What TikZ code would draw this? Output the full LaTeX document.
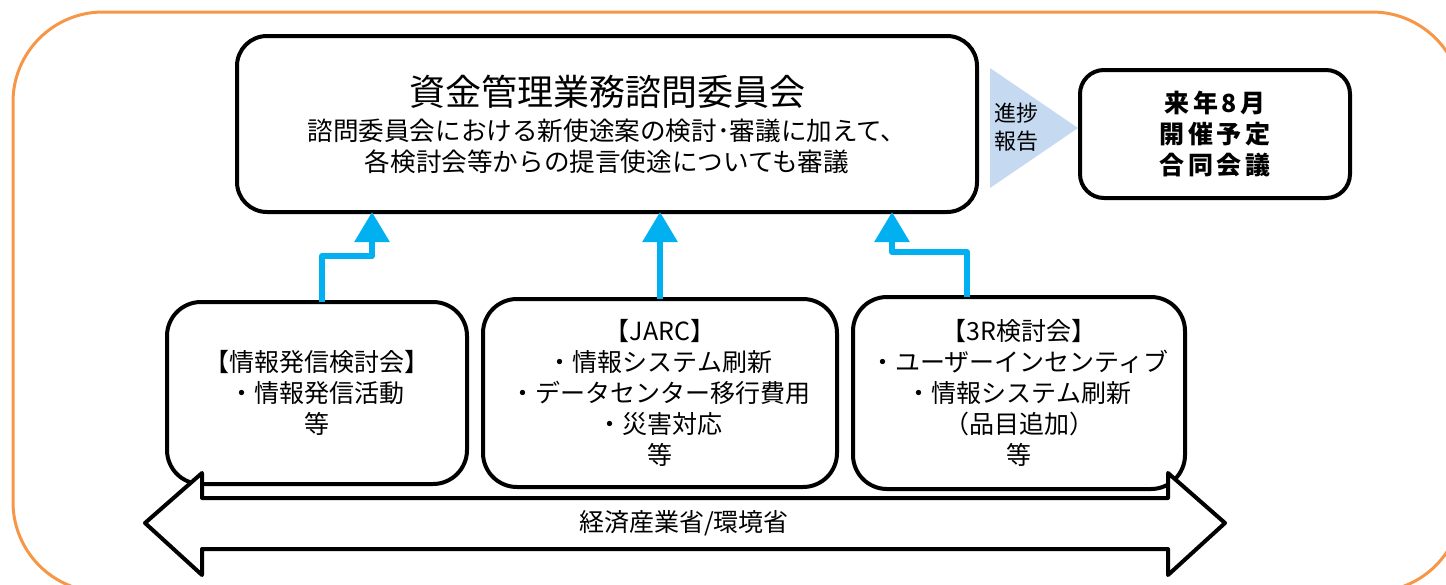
\documentclass[tikz,border=0pt]{standalone}
\usepackage{fontspec}
\setmainfont{Noto Sans CJK JP}
\usetikzlibrary{arrows.meta,positioning}
\definecolor{frameorange}{RGB}{247,150,70}
\definecolor{linkblue}{RGB}{0,176,240}
\definecolor{paleblue}{RGB}{197,217,241}

\begin{document}
\begin{tikzpicture}[
  x=0.5pt, y=-0.5pt,
  node distance=8pt,
  box/.style={draw, line width=2pt, rounded corners=15pt, align=center, inner sep=2pt, outer sep=0pt},
  topic/.style={box, rounded corners=17pt, minimum height=91pt, font=\fontsize{12.5}{15.5}\selectfont},
  link/.style={-{Triangle[length=15pt,width=17pt]}, line width=3pt, linkblue, line join=round},
  bigarrow/.style={draw, fill=white, line width=2pt, line join=round}
]
\useasboundingbox (0,0) rectangle (1446,584);
\draw[frameorange, line width=1.5pt, rounded corners=45pt] (13,12) rectangle (1462,592);

% upper row
\node[box, minimum width=370pt, minimum height=88pt, font=\fontsize{12.8}{15.5}\selectfont] (council) at (607,124)
  {{\fontsize{18}{21}\selectfont 資金管理業務諮問委員会}\\[2pt]
   諮問委員会における新使途案の検討･審議に加えて、\\
   各検討会等からの提言使途についても審議};
\node[box, rounded corners=12pt, minimum width=135pt, minimum height=64pt,
  font=\bfseries\fontsize{12.5}{15.5}\selectfont\addfontfeatures{LetterSpace=15}] (meeting) at (1215,134)
  {来年8月\\開催予定\\合同会議};
\fill[paleblue] (990,68) -- (1078,128) -- (990,188) -- cycle;
\node[font=\fontsize{11}{14}\selectfont, align=center] (report) at (1016,127) {進捗\\報告};

% study groups
\node[topic, minimum width=150pt] (info) at (317,393)
  {【情報発信検討会】\\・情報発信活動\\等};
\node[topic, minimum width=177pt, minimum height=94pt, right=8pt of info] (jarc)
  {【JARC】\\・情報システム刷新\\・データセンター移行費用\\・災害対応\\等};
\node[topic, minimum width=166pt, minimum height=96pt, right=8pt of jarc] (threer)
  {【3R検討会】\\・ユーザーインセンティブ\\・情報システム刷新\\（品目追加）\\等};

\draw[link] ([xshift=2.5pt]info.north) -- ++(0,23pt) -| ([xshift=-117.5pt]council.south);
\draw[link] (jarc.north) -- (jarc.north |- council.south);
\draw[link] ([xshift=-26pt]threer.north) -- ++(0,22.5pt) -| ([xshift=142.5pt]council.south);

% ministries
\draw[bigarrow] (145,523) -- (202,473) -- (202,498) -- (1168,498) -- (1168,473) -- (1225,523)
  -- (1168,575) -- (1168,549) -- (202,549) -- (202,575) -- cycle;
\node[font=\fontsize{12.5}{15}\selectfont] (ministry) at (684,523) {経済産業省/環境省};
\end{tikzpicture}
\end{document}
